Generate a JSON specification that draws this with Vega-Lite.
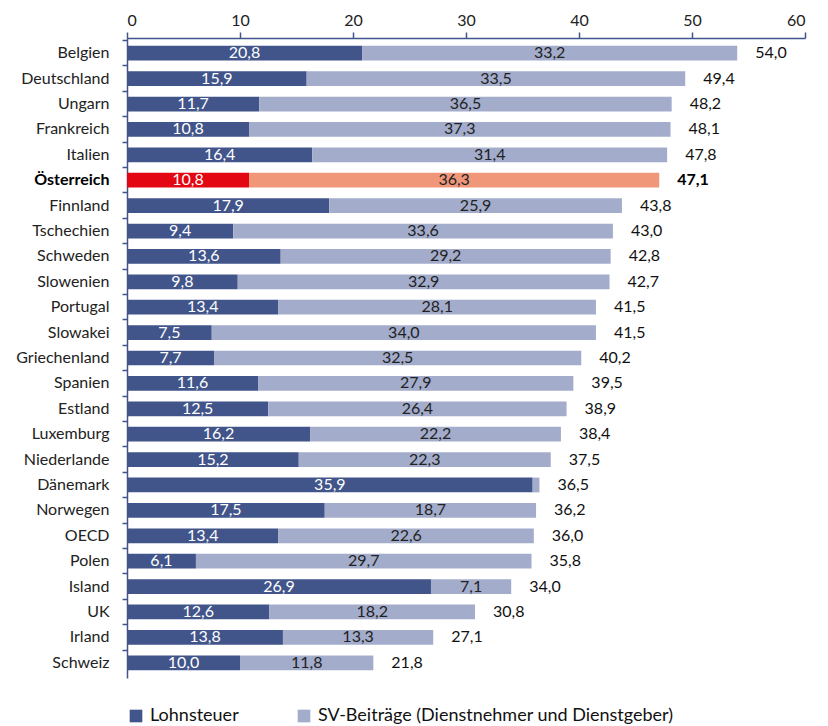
{
  "$schema": "https://vega.github.io/schema/vega-lite/v6.json",
  "width": 678,
  "height": 640,
  "autosize": {"type": "none"},
  "padding": {"left": 127, "top": 38, "right": 23, "bottom": 48},
  "background": "white",
  "config": {
    "view": {"stroke": null},
    "font": "Lato",
    "locale": {
      "number": {"decimal": ",", "thousands": ".", "grouping": [3], "currency": ["", " €"]}
    },
    "axis": {"labelFont": "Lato", "titleFont": "Lato"},
    "legend": {"labelFont": "Lato"}
  },
  "datasets": {
    "parts": [
      {"country": "Belgien", "part": "Lohnsteuer", "value": 20.8},
      {"country": "Belgien", "part": "SV-Beiträge (Dienstnehmer und Dienstgeber)", "value": 33.2},
      {"country": "Deutschland", "part": "Lohnsteuer", "value": 15.9},
      {"country": "Deutschland", "part": "SV-Beiträge (Dienstnehmer und Dienstgeber)", "value": 33.5},
      {"country": "Ungarn", "part": "Lohnsteuer", "value": 11.7},
      {"country": "Ungarn", "part": "SV-Beiträge (Dienstnehmer und Dienstgeber)", "value": 36.5},
      {"country": "Frankreich", "part": "Lohnsteuer", "value": 10.8},
      {"country": "Frankreich", "part": "SV-Beiträge (Dienstnehmer und Dienstgeber)", "value": 37.3},
      {"country": "Italien", "part": "Lohnsteuer", "value": 16.4},
      {"country": "Italien", "part": "SV-Beiträge (Dienstnehmer und Dienstgeber)", "value": 31.4},
      {"country": "Österreich", "part": "Lohnsteuer", "value": 10.8},
      {"country": "Österreich", "part": "SV-Beiträge (Dienstnehmer und Dienstgeber)", "value": 36.3},
      {"country": "Finnland", "part": "Lohnsteuer", "value": 17.9},
      {"country": "Finnland", "part": "SV-Beiträge (Dienstnehmer und Dienstgeber)", "value": 25.9},
      {"country": "Tschechien", "part": "Lohnsteuer", "value": 9.4},
      {"country": "Tschechien", "part": "SV-Beiträge (Dienstnehmer und Dienstgeber)", "value": 33.6},
      {"country": "Schweden", "part": "Lohnsteuer", "value": 13.6},
      {"country": "Schweden", "part": "SV-Beiträge (Dienstnehmer und Dienstgeber)", "value": 29.2},
      {"country": "Slowenien", "part": "Lohnsteuer", "value": 9.8},
      {"country": "Slowenien", "part": "SV-Beiträge (Dienstnehmer und Dienstgeber)", "value": 32.9},
      {"country": "Portugal", "part": "Lohnsteuer", "value": 13.4},
      {"country": "Portugal", "part": "SV-Beiträge (Dienstnehmer und Dienstgeber)", "value": 28.1},
      {"country": "Slowakei", "part": "Lohnsteuer", "value": 7.5},
      {"country": "Slowakei", "part": "SV-Beiträge (Dienstnehmer und Dienstgeber)", "value": 34.0},
      {"country": "Griechenland", "part": "Lohnsteuer", "value": 7.7},
      {"country": "Griechenland", "part": "SV-Beiträge (Dienstnehmer und Dienstgeber)", "value": 32.5},
      {"country": "Spanien", "part": "Lohnsteuer", "value": 11.6},
      {"country": "Spanien", "part": "SV-Beiträge (Dienstnehmer und Dienstgeber)", "value": 27.9},
      {"country": "Estland", "part": "Lohnsteuer", "value": 12.5},
      {"country": "Estland", "part": "SV-Beiträge (Dienstnehmer und Dienstgeber)", "value": 26.4},
      {"country": "Luxemburg", "part": "Lohnsteuer", "value": 16.2},
      {"country": "Luxemburg", "part": "SV-Beiträge (Dienstnehmer und Dienstgeber)", "value": 22.2},
      {"country": "Niederlande", "part": "Lohnsteuer", "value": 15.2},
      {"country": "Niederlande", "part": "SV-Beiträge (Dienstnehmer und Dienstgeber)", "value": 22.3},
      {"country": "Dänemark", "part": "Lohnsteuer", "value": 35.9},
      {"country": "Dänemark", "part": "SV-Beiträge (Dienstnehmer und Dienstgeber)", "value": 0.6},
      {"country": "Norwegen", "part": "Lohnsteuer", "value": 17.5},
      {"country": "Norwegen", "part": "SV-Beiträge (Dienstnehmer und Dienstgeber)", "value": 18.7},
      {"country": "OECD", "part": "Lohnsteuer", "value": 13.4},
      {"country": "OECD", "part": "SV-Beiträge (Dienstnehmer und Dienstgeber)", "value": 22.6},
      {"country": "Polen", "part": "Lohnsteuer", "value": 6.1},
      {"country": "Polen", "part": "SV-Beiträge (Dienstnehmer und Dienstgeber)", "value": 29.7},
      {"country": "Island", "part": "Lohnsteuer", "value": 26.9},
      {"country": "Island", "part": "SV-Beiträge (Dienstnehmer und Dienstgeber)", "value": 7.1},
      {"country": "UK", "part": "Lohnsteuer", "value": 12.6},
      {"country": "UK", "part": "SV-Beiträge (Dienstnehmer und Dienstgeber)", "value": 18.2},
      {"country": "Irland", "part": "Lohnsteuer", "value": 13.8},
      {"country": "Irland", "part": "SV-Beiträge (Dienstnehmer und Dienstgeber)", "value": 13.3},
      {"country": "Schweiz", "part": "Lohnsteuer", "value": 10.0},
      {"country": "Schweiz", "part": "SV-Beiträge (Dienstnehmer und Dienstgeber)", "value": 11.8}
    ],
    "totals": [
      {"country": "Belgien", "total": 54.0},
      {"country": "Deutschland", "total": 49.4},
      {"country": "Ungarn", "total": 48.2},
      {"country": "Frankreich", "total": 48.1},
      {"country": "Italien", "total": 47.8},
      {"country": "Österreich", "total": 47.1},
      {"country": "Finnland", "total": 43.8},
      {"country": "Tschechien", "total": 43.0},
      {"country": "Schweden", "total": 42.8},
      {"country": "Slowenien", "total": 42.7},
      {"country": "Portugal", "total": 41.5},
      {"country": "Slowakei", "total": 41.5},
      {"country": "Griechenland", "total": 40.2},
      {"country": "Spanien", "total": 39.5},
      {"country": "Estland", "total": 38.9},
      {"country": "Luxemburg", "total": 38.4},
      {"country": "Niederlande", "total": 37.5},
      {"country": "Dänemark", "total": 36.5},
      {"country": "Norwegen", "total": 36.2},
      {"country": "OECD", "total": 36.0},
      {"country": "Polen", "total": 35.8},
      {"country": "Island", "total": 34.0},
      {"country": "UK", "total": 30.8},
      {"country": "Irland", "total": 27.1},
      {"country": "Schweiz", "total": 21.8}
    ]
  },
  "encoding": {
    "y": {
      "field": "country",
      "type": "nominal",
      "sort": null,
      "scale": {"paddingInner": 0, "paddingOuter": 0.1},
      "axis": {
        "title": null,
        "bandPosition": 0,
        "domainColor": "#41558A",
        "domainWidth": 1.5,
        "tickColor": "#41558A",
        "tickWidth": 1.5,
        "tickSize": 5,
        "labelPadding": 13,
        "labelFontSize": 16,
        "labelColor": {"condition": {"test": "datum.value === 'Österreich'", "value": "#000000"}, "value": "#222222"},
        "labelFontWeight": {"condition": {"test": "datum.value === 'Österreich'", "value": "bold"}, "value": "normal"}
      }
    }
  },
  "layer": [
    {
      "data": {"name": "parts"},
      "transform": [
        {"stack": "value", "groupby": ["country"], "sort": [{"field": "part", "order": "ascending"}], "as": ["x0", "x1"]},
        {"calculate": "datum.country === 'Österreich' ? datum.part + ' AT' : datum.part", "as": "key"}
      ],
      "mark": {"type": "bar", "height": {"band": 0.58}},
      "encoding": {
        "x": {
          "field": "x0",
          "type": "quantitative",
          "scale": {"domain": [0, 60], "nice": false},
          "axis": {
            "orient": "top",
            "title": null,
            "values": [0, 10, 20, 30, 40, 50, 60],
            "format": "d",
            "grid": false,
            "domainColor": "#41558A",
            "domainWidth": 1.5,
            "tickColor": "#41558A",
            "tickWidth": 1.5,
            "tickSize": 6,
            "labelPadding": 4,
            "labelFontSize": 16,
            "labelColor": "#222222"
          }
        },
        "x2": {"field": "x1"},
        "color": {
          "field": "key",
          "type": "nominal",
          "scale": {
            "domain": ["Lohnsteuer", "SV-Beiträge (Dienstnehmer und Dienstgeber)", "Lohnsteuer AT", "SV-Beiträge (Dienstnehmer und Dienstgeber) AT"],
            "range": ["#41558A", "#A3ACCB", "#E30613", "#F0977A"]
          },
          "legend": {
            "title": null,
            "orient": "none",
            "direction": "horizontal",
            "legendX": 0,
            "legendY": 669,
            "values": ["Lohnsteuer", "SV-Beiträge (Dienstnehmer und Dienstgeber)"],
            "symbolType": "square",
            "symbolSize": 160,
            "symbolStrokeWidth": 0,
            "labelFontSize": 18,
            "labelColor": "#111111",
            "labelOffset": 5,
            "labelLimit": 500,
            "columnPadding": 56
          }
        }
      }
    },
    {
      "data": {"name": "parts"},
      "transform": [
        {"stack": "value", "groupby": ["country"], "sort": [{"field": "part", "order": "ascending"}], "as": ["x0", "x1"]},
        {"filter": "datum.value >= 1"},
        {"calculate": "(datum.x0 + datum.x1) / 2", "as": "mid"}
      ],
      "mark": {"type": "text", "fontSize": 16, "baseline": "middle", "align": "center"},
      "encoding": {
        "x": {"field": "mid", "type": "quantitative"},
        "text": {"field": "value", "type": "quantitative", "format": ".1f"},
        "color": {
          "condition": {"test": "datum.part === 'Lohnsteuer'", "value": "#FFFFFF"},
          "value": "#222222"
        }
      }
    },
    {
      "data": {"name": "totals"},
      "transform": [{"filter": "datum.country !== 'Österreich'"}],
      "mark": {"type": "text", "fontSize": 16, "baseline": "middle", "align": "left", "dx": 18, "color": "#111111"},
      "encoding": {
        "x": {"field": "total", "type": "quantitative"},
        "text": {"field": "total", "type": "quantitative", "format": ".1f"}
      }
    },
    {
      "data": {"name": "totals"},
      "transform": [{"filter": "datum.country === 'Österreich'"}],
      "mark": {"type": "text", "fontSize": 16, "fontWeight": "bold", "baseline": "middle", "align": "left", "dx": 18, "color": "#000000"},
      "encoding": {
        "x": {"field": "total", "type": "quantitative"},
        "text": {"field": "total", "type": "quantitative", "format": ".1f"}
      }
    }
  ]
}
